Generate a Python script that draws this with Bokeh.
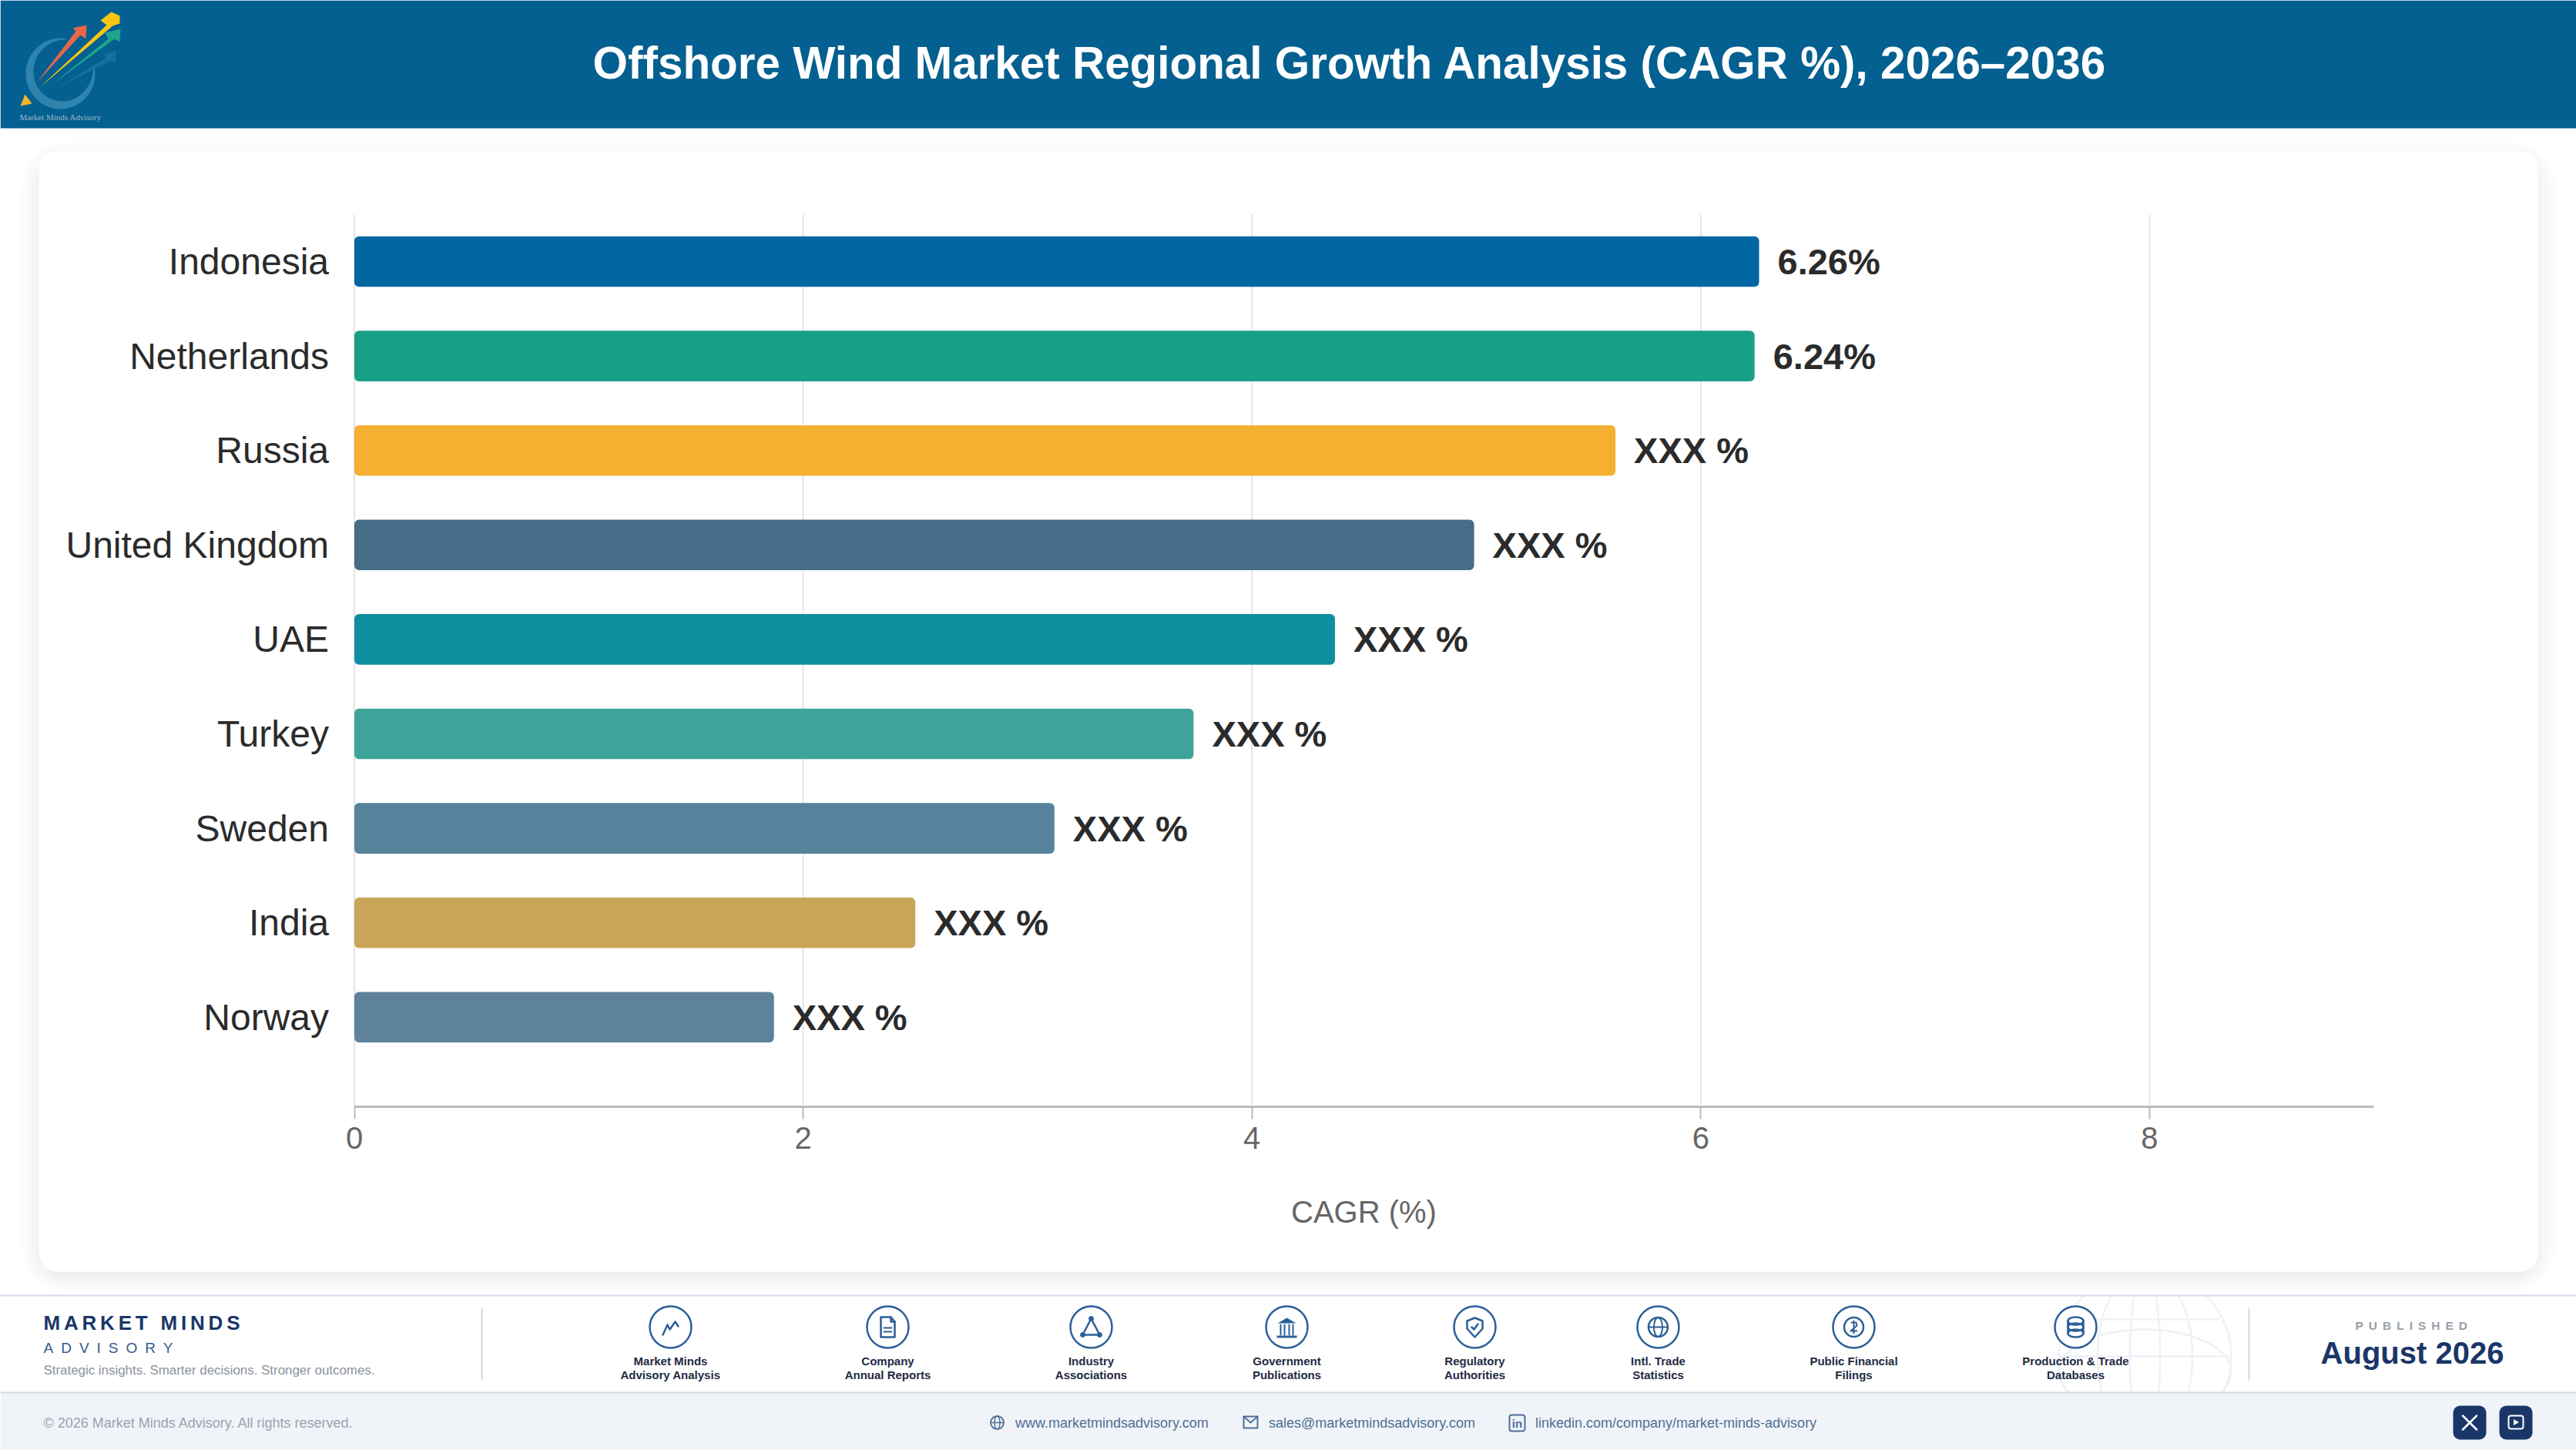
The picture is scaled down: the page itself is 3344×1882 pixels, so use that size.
import numpy as np
from bokeh.core.properties import value
from bokeh.embed import file_html
from bokeh.io import curdoc
from bokeh.models import CustomJS, FixedTicker, LinearAxis, Range1d
from bokeh.plotting import figure
from bokeh.resources import INLINE

# ---- chart data ----
categories = ["Indonesia", "Netherlands", "Russia", "United Kingdom", "UAE", "Turkey", "Sweden", "India", "Norway"]
cagr_values = [6.26, 6.24, 5.62, 4.99, 4.37, 3.74, 3.12, 2.50, 1.87]
value_labels = ["6.26%", "6.24%", "XXX %", "XXX %", "XXX %", "XXX %", "XXX %", "XXX %", "XXX %"]
bar_colors = ["#0166A1", "#18A086", "#F5B031", "#456D87", "#0E8FA0", "#3FA59A", "#57829B", "#C8A558", "#5F829B"]
x_ticks = [0, 2, 4, 6, 8]
title_text = "Offshore Wind Market Regional Growth Analysis (CAGR %), 2026\u20132036"
x_axis_title = "CAGR (%)"
source_labels = [("Market Minds", "Advisory Analysis"), ("Company", "Annual Reports"), ("Industry", "Associations"),
                 ("Government", "Publications"), ("Regulatory", "Authorities"), ("Intl. Trade", "Statistics"),
                 ("Public Financial", "Filings"), ("Production & Trade", "Databases")]

# ---- layout constants (canvas pixels) ----
W, H = 3344, 1882
X0, PX_PER_UNIT = 459.5, 291.3
Y0, PX_PER_ROW = 339.0, 122.6
AXIS_Y = 1435.5
GRID_TOP = 278.0
FONT = "Liberation Sans"
NAVY = "#1A3668"
ICON = "#2C5F97"

row = list(range(len(categories)))
to_row = lambda py: (py - Y0) / PX_PER_ROW
to_x = lambda px: (px - X0) / PX_PER_UNIT

p = figure(width=W, height=H, output_backend="svg", toolbar_location=None,
           x_range=Range1d(to_x(0), to_x(W)), y_range=Range1d(to_row(H), to_row(0)),
           x_axis_location=None, y_axis_location=None, min_border=0,
           background_fill_color="white", border_fill_color="white",
           outline_line_color=None, margin=(0, 0, 0, 0))
p.grid.visible = False
p.extra_x_ranges["px"] = Range1d(0, W)
p.extra_y_ranges["px"] = Range1d(H, 0)
PX = dict(x_range_name="px", y_range_name="px")


def rect(l, t, r, b, color, alpha=1.0, radius=0, line=None, lw=1):
    p.quad(left=[l], right=[r], top=[t], bottom=[b], fill_color=color, fill_alpha=alpha,
           line_color=line, line_width=lw, border_radius=radius, **PX)


def txt(x, y, s, size, color, bold=False, align="left", font=FONT):
    p.text(x=[x], y=[y], text=[s], text_font=value(font), text_font_size=f"{size}px", text_color=color,
           text_font_style="bold" if bold else "normal", text_align=align, text_baseline="middle", **PX)


def poly(pts, color, lw=2.5, cx=0, cy=0):
    p.line([cx + a for a, _ in pts], [cy + b for _, b in pts], line_color=color, line_width=lw,
           line_join="round", line_cap="round", **PX)


def fill(pts, color, alpha=1.0, cx=0, cy=0):
    p.patch([cx + a for a, _ in pts], [cy + b for _, b in pts], fill_color=color, fill_alpha=alpha,
            line_color=None, **PX)


def ell(cx, cy, w, h, color, lw=2.5, fillc=None, alpha=1.0):
    p.ellipse(x=[cx], y=[cy], width=[w], height=[h], fill_color=fillc, line_color=color,
              line_width=lw, line_alpha=alpha, **PX)


# ---- page background, watermark ----
rect(0, 0, W, H, "#FFFFFF")
gx, gy, gr = 2784, 1760, 112
for w_ in [2 * gr, 1.1 * gr, 0.35 * gr]:
    ell(gx, gy, w_, 2 * gr, "#EEF1F7", lw=2.5)
for yy, hw in [(1760, gr), (1712, 95)]:
    poly([(gx - hw, yy), (gx + hw, yy)], "#EEF1F7", lw=2.5)
ell(gx, gy + 20, 2 * gr, 110, "#EEF1F7", lw=2.5)

# ---- card region with soft shadow ----
rect(0, 166, W, 1681, "#FFFFFF")
for grow, a in [(34, 0.008), (28, 0.010), (22, 0.012), (16, 0.012), (10, 0.012), (5, 0.012)]:
    rect(60 - grow, 216 - grow, 3284 + grow, 1650 + 0.8 * grow, "#000000", alpha=a, radius=24 + grow)
rect(50, 196, 3294, 1650, "#FFFFFF", radius=24)

# ---- header ----
rect(0, 0, W, 166, "#046090")
# logo
t = np.radians(np.linspace(80, 375, 70))
taper = np.sin(np.linspace(0.05, np.pi - 0.05, 70)) ** 0.8
ox, oy = 78 + 45 * np.cos(t), 95 - 46 * np.sin(t)
ix, iy = 78 + (45 - 11 * taper) * np.cos(t), 95 - (46 - 11 * taper) * np.sin(t)
p.patch(list(ox) + list(ix[::-1]), list(oy) + list(iy[::-1]), fill_color="#2E84AE", line_color=None, **PX)
fill([(47, 107), (98, 40), (94, 36), (112, 32), (111, 50), (104, 45)], "#E8664A")
fill([(51, 113), (138, 32), (130, 26), (144, 15), (155, 20), (155, 30), (146, 33)], "#FBC612")
fill([(66, 110), (140, 50), (136, 42), (156, 37), (155, 54), (148, 50)], "#1CA58A")
fill([(76, 112), (138, 74), (134, 70), (150, 65), (149, 82), (144, 78)], "#13709F")
fill([(32, 122), (41, 134), (26, 137)], "#F4B42B")
txt(25, 151, "Market Minds Advisory", 11, "#9DB6C8", font="Liberation Serif")
txt(1752, 81, title_text, 58.4, "#FFFFFF", bold=True, align="center")

# ---- chart grid and axes ----
p.segment(x0=x_ticks, x1=x_ticks, y0=[to_row(GRID_TOP)] * len(x_ticks), y1=[to_row(AXIS_Y)] * len(x_ticks),
          line_color="#E4E4E4", line_width=2)
xax = LinearAxis(fixed_location=to_row(AXIS_Y), bounds=(0, 9), ticker=FixedTicker(ticks=x_ticks),
                 axis_line_color="#BBBBBB", axis_line_width=3, major_tick_line_color="#BBBBBB",
                 major_tick_line_width=2, major_tick_in=0, major_tick_out=16, minor_tick_line_color=None,
                 major_label_text_font=FONT, major_label_text_font_size="40px",
                 major_label_text_color="#666666", major_label_standoff=11)
p.add_layout(xax, "below")
yax = LinearAxis(fixed_location=0, bounds=(-0.5, to_row(AXIS_Y)), ticker=FixedTicker(ticks=row),
                 axis_line_color=None, major_tick_line_color=None, minor_tick_line_color=None,
                 major_label_overrides=dict(zip(row, categories)), major_label_text_font=FONT,
                 major_label_text_font_size="48px", major_label_text_color="#2B2B2B",
                 major_label_standoff=27)
p.add_layout(yax, "left")
txt(1770, 1572, x_axis_title, 40, "#666666", align="center")

# ---- bars and labels ----
p.hbar(y=row, left=0, right=cagr_values, height=0.535, fill_color=bar_colors, line_color=None, border_radius=6)
p.text(x=cagr_values, y=row, text=value_labels, x_offset=24, text_font=value(FONT), text_font_style="bold",
       text_font_size="47px", text_color="#2B2B2B", text_baseline="middle", text_align="left")

# ---- footer ----
rect(0, 1807, W, H, "#F0F4F9")
rect(0, 1680, W, 1682, "#D6DAE9")
rect(0, 1806, W, 1808, "#D6DAE9")
txt(56, 1716, "MARKET MINDS", 26, NAVY, bold=True)
txt(56, 1749, "ADVISORY", 19, "#2F5C8F")
txt(56, 1778, "Strategic insights. Smarter decisions. Stronger outcomes.", 16.9, "#8A929E")
rect(624, 1698, 626, 1790, "#CBD6E2")
rect(2918, 1698, 2920, 1790, "#CBD6E2")
txt(3130 - 73, 1720, "PUBLISHED", 15.5, "#9A9EA8", bold=True)
txt(3131, 1755, "August 2026", 40, NAVY, bold=True, align="center")

centers = [870, 1152, 1416, 1670, 1914, 2152, 2406, 2694]
for c, (a, b) in zip(centers, source_labels):
    ell(c, 1722, 54, 54, ICON, lw=2.5, fillc="#FFFFFF")
    txt(c, 1766, a, 15, "#1E2A44", bold=True, align="center")
    txt(c, 1784, b, 15, "#1E2A44", bold=True, align="center")

cy = 1722
poly([(-10, 10), (-4, -3), (-1, 3), (6, -7), (10, -1)], ICON, cx=870, cy=cy)
poly([(-9, -13), (4, -13), (9, -7), (9, 13), (-9, 13), (-9, -13)], ICON, cx=1152, cy=cy)
poly([(4, -13), (4, -7), (9, -7)], ICON, cx=1152, cy=cy)
poly([(-5, 1), (5, 1)], ICON, lw=2, cx=1152, cy=cy)
poly([(-5, 6), (5, 6)], ICON, lw=2, cx=1152, cy=cy)
poly([(0, -11), (-11, 10), (11, 10), (0, -11)], ICON, cx=1416, cy=cy)
for a, b in [(0, -11), (-11, 10), (11, 10)]:
    ell(1416 + a, cy + b, 6, 6, ICON, lw=1, fillc=ICON)
fill([(-12, -5), (0, -12), (12, -5)], ICON, cx=1670, cy=cy)
for a in [-8, -3, 3, 8]:
    poly([(a, -3), (a, 10)], ICON, lw=2, cx=1670, cy=cy)
rect(1670 - 13, cy + 11, 1670 + 13, cy + 14, ICON)
poly([(0, -12), (10, -8), (10, 2), (0, 13), (-10, 2), (-10, -8), (0, -12)], ICON, cx=1914, cy=cy)
poly([(-4, 0), (-1, 3), (4, -4)], ICON, cx=1914, cy=cy)
ell(2152, cy, 25, 25, ICON)
ell(2152, cy, 11, 25, ICON, lw=2)
poly([(-12, 0), (12, 0)], ICON, lw=2, cx=2152, cy=cy)
ell(2406, cy, 25, 25, ICON)
poly([(-3, -6), (3, -6), (4, -2), (-4, 5), (4, 5)], ICON, lw=2, cx=2406, cy=cy)
poly([(0, -8), (0, 8)], ICON, lw=2, cx=2406, cy=cy)
for dy in [-8, 0, 8]:
    ell(2694, cy + dy, 20, 10, ICON, lw=2.5)
poly([(-10, -8), (-10, 8)], ICON, cx=2694, cy=cy)
poly([(10, -8), (10, 8)], ICON, cx=2694, cy=cy)

# contact row
SLATE = "#4F6E94"
txt(56, 1846, "\u00a9 2026 Market Minds Advisory. All rights reserved.", 18, "#9AA3B0")
txt(1317.5, 1846, "www.marketmindsadvisory.com", 18, SLATE)
txt(1646.5, 1846, "sales@marketmindsadvisory.com", 18, SLATE)
txt(1992.5, 1846, "linkedin.com/company/market-minds-advisory", 18, SLATE)
ell(1294, 1846, 17, 17, SLATE, lw=1.8)
ell(1294, 1846, 7, 17, SLATE, lw=1.5)
poly([(-8, 0), (8, 0)], SLATE, lw=1.5, cx=1294, cy=1846)
rect(1614, 1838, 1632, 1853, "#F0F4F9", line=SLATE, lw=2)
poly([(-9, -8), (0, 0), (9, -8)], SLATE, lw=1.8, cx=1623, cy=1846)
rect(1959, 1836, 1979, 1857, "#F0F4F9", radius=3, line=SLATE, lw=2)
txt(1969, 1847, "in", 15, SLATE, bold=True, align="center")
rect(3184, 1824, 3227, 1868, NAVY, radius=9)
rect(3244, 1824, 3287, 1868, NAVY, radius=9)
poly([(-9, -9), (9, 9)], "#FFFFFF", lw=2.5, cx=3205.5, cy=1846)
poly([(-9, 9), (9, -9)], "#FFFFFF", lw=2.5, cx=3205.5, cy=1846)
rect(3256, 1837, 3275, 1854, NAVY, radius=3, line="#FFFFFF", lw=2)
fill([(-3, -4), (4, 0), (-3, 4)], "#FFFFFF", cx=3265.5, cy=1845.5)

# CSS letter spacing for tracked footer texts (strings stay intact)
spacing = {"MARKET MINDS": 4.8, "ADVISORY": 10.0, "PUBLISHED": 7.0}
cb = CustomJS(args=dict(spacing=spacing), code="""
function walk(root) {
  root.querySelectorAll('*').forEach(el => {
    if (el.shadowRoot) walk(el.shadowRoot);
    if (el.tagName && el.tagName.toLowerCase() === 'text') {
      const s = spacing[el.textContent];
      if (s !== undefined) el.style.letterSpacing = s + 'px';
    }
  });
}
[0, 200, 800].forEach(t => setTimeout(() => walk(document), t));
""")
doc = curdoc()
doc.add_root(p)
doc.js_on_event("document_ready", cb)

open("out.html", "w").write(file_html(p, INLINE))
